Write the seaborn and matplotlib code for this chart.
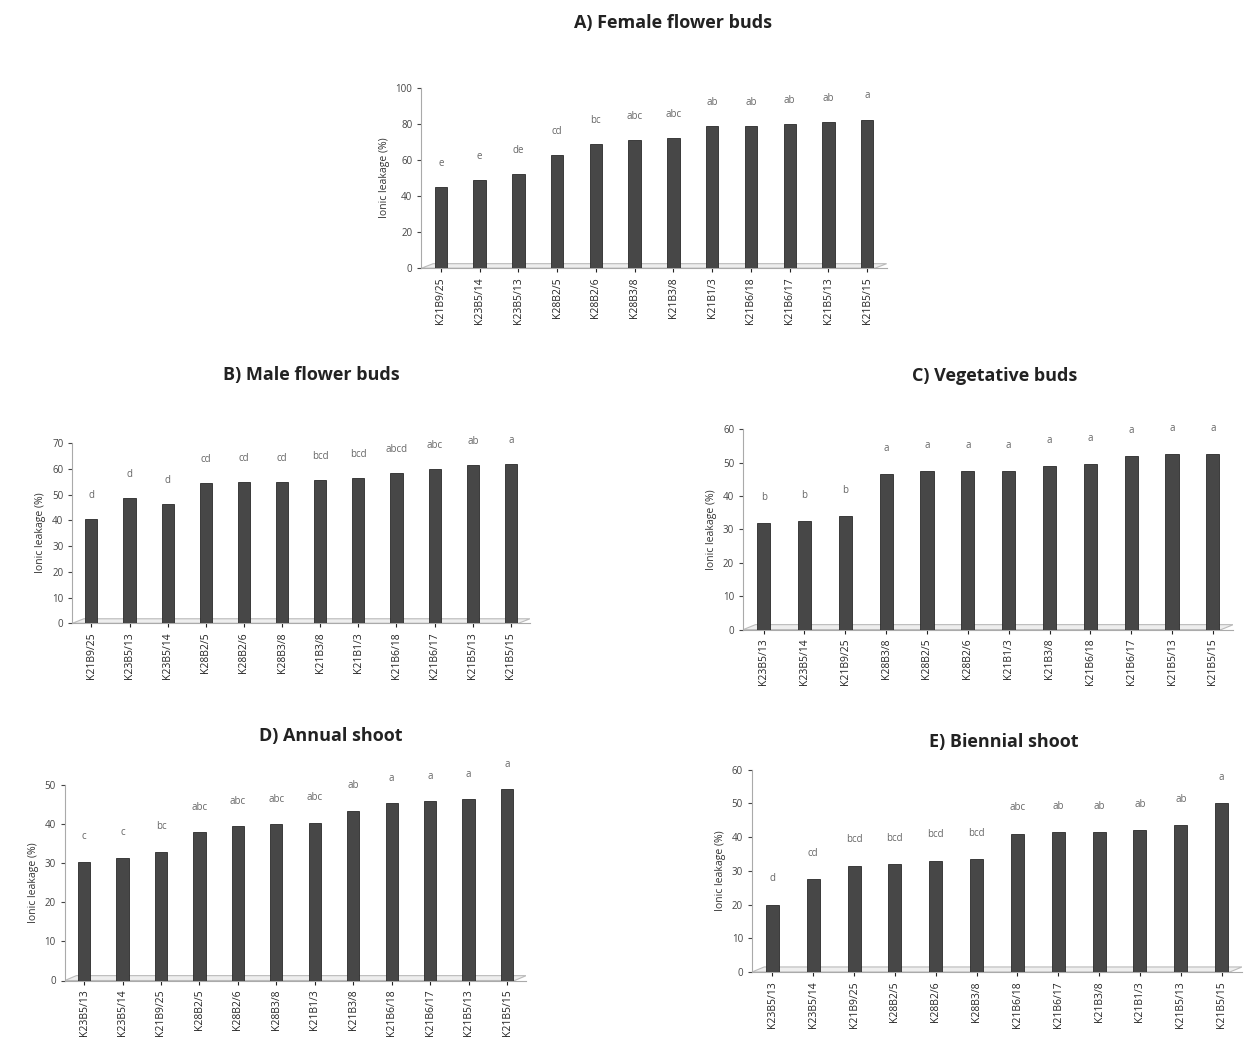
import numpy as np
import pandas as pd
import matplotlib.pyplot as plt
import seaborn as sns

# panel A - female flower buds
a_names = ['K21B9/25', 'K23B5/14', 'K23B5/13', 'K28B2/5', 'K28B2/6', 'K28B3/8',
           'K21B3/8', 'K21B1/3', 'K21B6/18', 'K21B6/17', 'K21B5/13', 'K21B5/15']
a_vals = [45, 49, 52.5, 63, 69, 71, 72.5, 79, 79, 80, 81, 82.5]
a_letters = ['e', 'e', 'de', 'cd', 'bc', 'abc', 'abc', 'ab', 'ab', 'ab', 'ab', 'a']

# panel B - male flower buds
b_names = ['K21B9/25', 'K23B5/13', 'K23B5/14', 'K28B2/5', 'K28B2/6', 'K28B3/8',
           'K21B3/8', 'K21B1/3', 'K21B6/18', 'K21B6/17', 'K21B5/13', 'K21B5/15']
b_vals = [40.5, 48.5, 46.5, 54.5, 55, 55, 55.5, 56.5, 58.5, 60, 61.5, 62]
b_letters = ['d', 'd', 'd', 'cd', 'cd', 'cd', 'bcd', 'bcd', 'abcd', 'abc', 'ab', 'a']

# panel C - vegetative buds
c_names = ['K23B5/13', 'K23B5/14', 'K21B9/25', 'K28B3/8', 'K28B2/5', 'K28B2/6',
           'K21B1/3', 'K21B3/8', 'K21B6/18', 'K21B6/17', 'K21B5/13', 'K21B5/15']
c_vals = [32, 32.5, 34, 46.5, 47.5, 47.5, 47.5, 49, 49.5, 52, 52.5, 52.5]
c_letters = ['b', 'b', 'b', 'a', 'a', 'a', 'a', 'a', 'a', 'a', 'a', 'a']

# panel D - annual shoot
d_names = ['K23B5/13', 'K23B5/14', 'K21B9/25', 'K28B2/5', 'K28B2/6', 'K28B3/8',
           'K21B1/3', 'K21B3/8', 'K21B6/18', 'K21B6/17', 'K21B5/13', 'K21B5/15']
d_vals = [30.5, 31.5, 33, 38, 39.5, 40, 40.5, 43.5, 45.5, 46, 46.5, 49]
d_letters = ['c', 'c', 'bc', 'abc', 'abc', 'abc', 'abc', 'ab', 'a', 'a', 'a', 'a']

# panel E - biennial shoot
e_names = ['K23B5/13', 'K23B5/14', 'K21B9/25', 'K28B2/5', 'K28B2/6', 'K28B3/8',
           'K21B6/18', 'K21B6/17', 'K21B3/8', 'K21B1/3', 'K21B5/13', 'K21B5/15']
e_vals = [20, 27.5, 31.5, 32, 33, 33.5, 41, 41.5, 41.5, 42, 43.5, 50]
e_letters = ['d', 'cd', 'bcd', 'bcd', 'bcd', 'bcd', 'abc', 'ab', 'ab', 'ab', 'ab', 'a']

sns.set_style('white')
plt.rcParams['font.family'] = ['Open Sans', 'DejaVu Sans']

fig = plt.figure(figsize=(12.47, 10.6), dpi=100)


def panel(rect, names, vals, letters, ymax, step, title, title_xy):
    ax = fig.add_axes(rect)
    df = pd.DataFrame({'genotype': names, 'leakage': vals})
    # floor of the pseudo-3D chart
    ax.fill([0.0, 0.025, 1.0, 0.975], [0.0, 0.025, 0.025, 0.0], transform=ax.transAxes,
            facecolor='#eeeeee', edgecolor='#bbbbbb', lw=0.8, zorder=1)
    sns.barplot(data=df, x='genotype', y='leakage', color='#474747', width=0.32,
                edgecolor='#2a2a2a', linewidth=0.6, saturation=1, ax=ax, zorder=3)
    for i, (v, t) in enumerate(zip(vals, letters)):
        ax.text(i, v + ymax * 0.1, t, ha='center', va='bottom', fontsize=7, color='#666666')
    ax.set_ylim(0, ymax)
    ax.set_xlim(-0.5, len(names) - 0.5)
    ax.set_yticks(np.arange(0, ymax + 1, step))
    ax.tick_params(axis='y', labelsize=7, colors='#444444', length=3, direction='out', left=True)
    ax.tick_params(axis='x', labelsize=7.5, colors='#222222', rotation=90, length=3, bottom=True)
    ax.set_xlabel('')
    ax.set_ylabel('Ionic leakage (%)', fontsize=7.5, color='#333333')
    for s in ['top', 'right']:
        ax.spines[s].set_visible(False)
    for s in ['left', 'bottom']:
        ax.spines[s].set_color('#aaaaaa')
        ax.spines[s].set_linewidth(0.8)
    fig.text(title_xy[0], title_xy[1], title, ha='center', va='center',
             fontsize=13, fontweight='bold', color='#222222')
    return ax


panel([0.338, 0.747, 0.373, 0.170], a_names, a_vals, a_letters, 100, 20,
      'A) Female flower buds', (0.54, 0.978))
panel([0.058, 0.412, 0.367, 0.170], b_names, b_vals, b_letters, 70, 10,
      'B) Male flower buds', (0.25, 0.646))
panel([0.596, 0.406, 0.393, 0.189], c_names, c_vals, c_letters, 60, 10,
      'C) Vegetative buds', (0.798, 0.645))
panel([0.052, 0.075, 0.370, 0.184], d_names, d_vals, d_letters, 50, 10,
      'D) Annual shoot', (0.265, 0.306))
panel([0.603, 0.083, 0.393, 0.191], e_names, e_vals, e_letters, 60, 10,
      'E) Biennial shoot', (0.805, 0.3))

fig.savefig('out.png', dpi=100)
